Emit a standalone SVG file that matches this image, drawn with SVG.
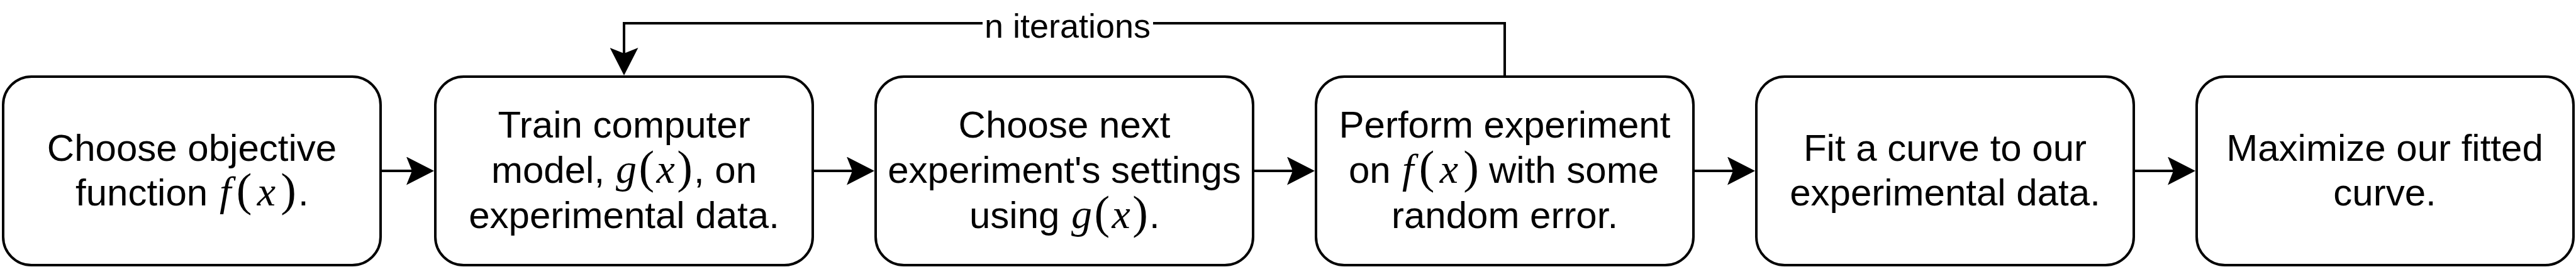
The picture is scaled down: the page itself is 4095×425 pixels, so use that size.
<svg xmlns="http://www.w3.org/2000/svg" width="4095" height="425" viewBox="0 0 4095 425">
  <style>
    .box { fill: #ffffff; stroke: #000000; stroke-width: 4; }
    .edge { fill: none; stroke: #000000; stroke-width: 4; }
    .t { font-family: "Liberation Sans", Arial, sans-serif; font-size: 60px; fill: #000000; text-anchor: middle; }
    .ts { font-family: "Liberation Sans", Arial, sans-serif; font-size: 60px; fill: #000000; text-anchor: start; }
    .m { font-family: "Liberation Serif", "Times New Roman", serif; font-size: 66px; font-style: italic; fill: #000000; text-anchor: start; }
    .p { font-style: normal; font-size: 74px; }
    .lbl { font-family: "Liberation Sans", Arial, sans-serif; font-size: 54px; fill: #000000; text-anchor: middle; }
  </style>
  <defs>
    <marker id="arrow" markerUnits="userSpaceOnUse" markerWidth="44" markerHeight="45" viewBox="0 0 44 45" refX="24" refY="22.5" orient="auto">
      <path d="M0,0 L44,22.5 L0,45 L9,22.5 Z" fill="#000000"/>
    </marker>
  </defs>

  <rect width="4095" height="425" fill="#ffffff"/>

  <g id="connectors">
    <path class="edge" d="M605,272 H670" marker-end="url(#arrow)"/>
    <path class="edge" d="M1292,272 H1370" marker-end="url(#arrow)"/>
    <path class="edge" d="M1992,272 H2070" marker-end="url(#arrow)"/>
    <path class="edge" d="M2692,272 H2770" marker-end="url(#arrow)"/>
    <path class="edge" d="M3392,272 H3470" marker-end="url(#arrow)"/>
    <path class="edge" d="M2392,122 V37 H992 V100" marker-end="url(#arrow)"/>
    <g id="loop-label">
      <rect x="1562" y="14" width="271" height="50" fill="#ffffff"/>
      <text class="lbl" x="1697" y="60">n iterations</text>
    </g>
  </g>

  <g id="node1">
    <rect class="box" x="5" y="122" width="600" height="300" rx="45" ry="45"/>
    <text class="t" x="305" y="256">Choose objective</text>
    <text class="ts" x="120" y="327">function</text>
    <text class="m" x="349" y="327" textLength="122" lengthAdjust="spacing">f<tspan class="p">(</tspan>x<tspan class="p">)</tspan></text>
    <text class="ts" x="474" y="327">.</text>
  </g>

  <g id="node2">
    <rect class="box" x="692" y="122" width="600" height="300" rx="45" ry="45"/>
    <text class="t" x="992" y="219">Train computer</text>
    <text class="ts" x="781" y="291">model,</text>
    <text class="m" x="979" y="291" textLength="122" lengthAdjust="spacing">g<tspan class="p">(</tspan>x<tspan class="p">)</tspan></text>
    <text class="ts" x="1103" y="291">, on</text>
    <text class="t" x="992" y="363">experimental data.</text>
  </g>

  <g id="node3">
    <rect class="box" x="1392" y="122" width="600" height="300" rx="45" ry="45"/>
    <text class="t" x="1692" y="219">Choose next</text>
    <text class="t" x="1692" y="291">experiment's settings</text>
    <text class="ts" x="1541" y="363">using</text>
    <text class="m" x="1703" y="363" textLength="122" lengthAdjust="spacing">g<tspan class="p">(</tspan>x<tspan class="p">)</tspan></text>
    <text class="ts" x="1827" y="363">.</text>
  </g>

  <g id="node4">
    <rect class="box" x="2092" y="122" width="600" height="300" rx="45" ry="45"/>
    <text class="t" x="2392" y="219">Perform experiment</text>
    <text class="ts" x="2144" y="291">on</text>
    <text class="m" x="2229" y="291" textLength="122" lengthAdjust="spacing">f<tspan class="p">(</tspan>x<tspan class="p">)</tspan></text>
    <text class="ts" x="2367" y="291">with some</text>
    <text class="t" x="2392" y="363">random error.</text>
  </g>

  <g id="node5">
    <rect class="box" x="2792" y="122" width="600" height="300" rx="45" ry="45"/>
    <text class="t" x="3092" y="256">Fit a curve to our</text>
    <text class="t" x="3092" y="327">experimental data.</text>
  </g>

  <g id="node6">
    <rect class="box" x="3492" y="122" width="599" height="300" rx="45" ry="45"/>
    <text class="t" x="3791" y="256">Maximize our fitted</text>
    <text class="t" x="3791" y="327">curve.</text>
  </g>
</svg>
